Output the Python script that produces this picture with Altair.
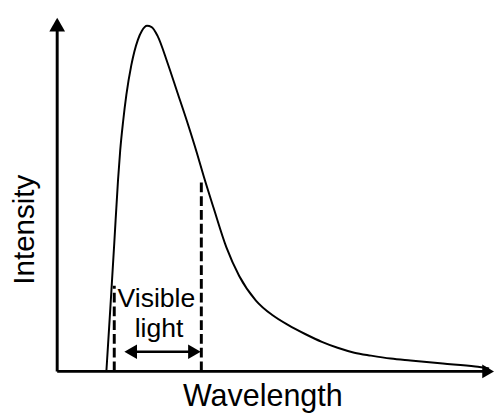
import altair as alt
import pandas as pd

# Spectral curve (arbitrary units)
wavelength = [10.0, 10.8, 11.6, 12.36, 12.8, 13.4, 14.06, 15.06, 16.4, 17.2, 18.26, 19.2,
              20.4, 22.4, 24.4, 26.4, 28.4, 29.8, 31.8, 34.4, 37.0, 40.4, 43.8, 47.0, 50.4,
              53.8, 57.0, 60.4, 63.8, 67.8, 71.8, 78.4, 85.0, 87.8]
intensity = [0, 16, 32.5, 48.5, 56, 63.5, 70.25, 77.75, 84.25, 86.5, 87.8, 87.5,
             85.25, 78.5, 71, 63.5, 55.5, 49.5, 41.5, 31.5, 24.25, 18, 14.25, 11.75, 9.5,
             7.5, 6.0, 4.75, 4, 3.25, 2.75, 2, 1.25, 0.75]

# Visible band limits
visible_lo = 11.6
visible_hi = 29.3
visible_lo_top = 21.75
visible_hi_top = 48.5
band_arrow_y = 5.0

# Axis extents
x_axis_end = 87.6
y_axis_end = 88.1

labels = ["Visible", "light"]
label_x = [20.17, 20.7]
label_y = [16.4, 8.7]

x_title = "Wavelength"
y_title = "Intensity"

FONT = "Liberation Sans"
xs = alt.Scale(domain=[-10, 89], nice=False, zero=False)
ys = alt.Scale(domain=[-10.5, 91.5], nice=False, zero=False)

def X(f):
    return alt.X(f, type="quantitative", scale=xs, axis=None)

def Y(f):
    return alt.Y(f, type="quantitative", scale=ys, axis=None)

curve = alt.Chart(pd.DataFrame({"wl": wavelength, "I": intensity})).mark_line(
    color="black", strokeWidth=2, interpolate="monotone"
).encode(x=X("wl"), y=Y("I"))

# axes lines
yaxis = alt.Chart(pd.DataFrame({"x": [0], "y": [0], "y2": [y_axis_end]})).mark_rule(
    color="black", strokeWidth=3
).encode(x=X("x"), y=Y("y"), y2="y2")
xaxis = alt.Chart(pd.DataFrame({"x": [0], "x2": [x_axis_end], "y": [0]})).mark_rule(
    color="black", strokeWidth=3
).encode(x=X("x"), x2="x2", y=Y("y"))

heads = alt.Chart(pd.DataFrame({
    "x": [0, x_axis_end, visible_lo + 3.34, visible_hi - 1.4],
    "y": [y_axis_end, 0, band_arrow_y, band_arrow_y],
    "shape": ["triangle-up", "triangle-right", "triangle-left", "triangle-right"],
    "size": [256, 190, 220, 220],
})).mark_point(filled=True, color="black", opacity=1, strokeWidth=0).encode(
    x=X("x"), y=Y("y"),
    shape=alt.Shape("shape:N", scale=None),
    size=alt.Size("size:Q", scale=None),
)

dashed = alt.Chart(pd.DataFrame({
    "x": [visible_lo, visible_hi], "y": [0, 0], "y2": [visible_lo_top, visible_hi_top]
})).mark_rule(color="black", strokeWidth=3, strokeDash=[10, 4]).encode(
    x=X("x"), y=Y("y"), y2="y2"
)

band = alt.Chart(pd.DataFrame({
    "x": [visible_lo + 3.34], "x2": [visible_hi - 1.4], "y": [band_arrow_y]
})).mark_rule(color="black", strokeWidth=2.5).encode(x=X("x"), x2="x2", y=Y("y"))

band_text = alt.Chart(pd.DataFrame({"t": labels, "x": label_x, "y": label_y})).mark_text(
    font=FONT, fontSize=27, color="black", align="center", baseline="alphabetic"
).encode(x=X("x"), y=Y("y"), text="t:N")

xt = alt.Chart(pd.DataFrame({"t": [x_title], "x": [41.8], "y": [-8.75]})).mark_text(
    font=FONT, fontSize=31, color="black", align="center", baseline="alphabetic"
).encode(x=X("x"), y=Y("y"), text="t:N")

yt = alt.Chart(pd.DataFrame({"t": [y_title], "x": [-6.6], "y": [36]})).mark_text(
    font=FONT, fontSize=30, color="black", align="center", baseline="middle", angle=270
).encode(x=X("x"), y=Y("y"), text="t:N")

chart = alt.layer(curve, yaxis, xaxis, dashed, band, heads, band_text, xt, yt).properties(
    width=495, height=408, autosize="none", padding=0
).configure(background="white").configure_view(stroke=None)

chart.save("out.html", embed_options={"renderer": "svg", "actions": False})
